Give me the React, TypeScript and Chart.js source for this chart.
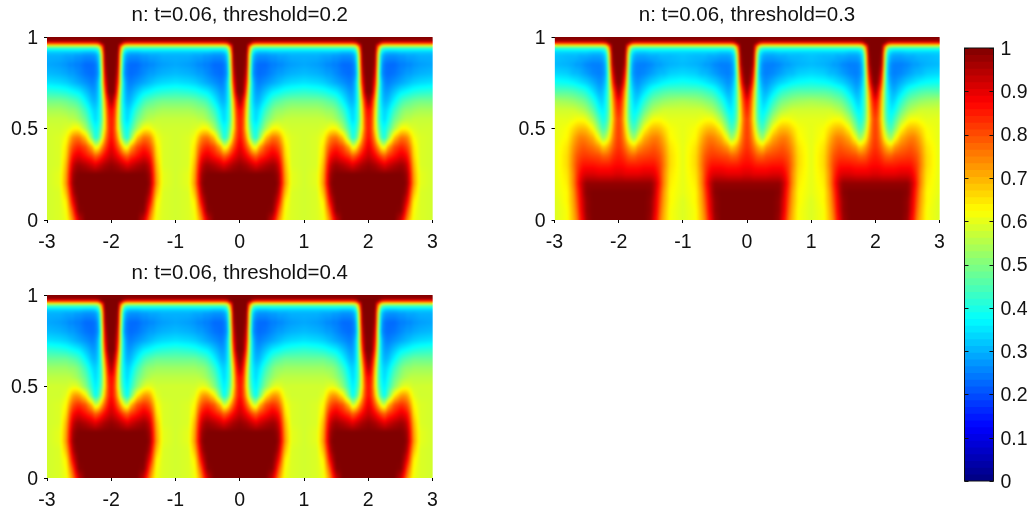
import React, { useEffect, useRef } from "react";
import { Chart, registerables } from "chart.js";

Chart.register(...registerables);

const titles = ["n: t=0.06, threshold=0.2", "n: t=0.06, threshold=0.3", "n: t=0.06, threshold=0.4"];
// distance from the nearest spike centre (x = -2, 0, 2)
const distances = [0, 0.05, 0.1, 0.15, 0.2, 0.25, 0.3, 0.4, 0.5, 0.55, 0.6, 0.65, 0.7, 0.8, 1];
const heights = [1, 0.98, 0.97, 0.96, 0.95, 0.94, 0.92, 0.9, 0.85, 0.8, 0.75, 0.7, 0.65, 0.6, 0.55, 0.5, 0.45, 0.4, 0.35, 0.3, 0.25, 0.2, 0.15, 0.1, 0.05, 0];
const centres = [-2, 0, 2];

// values in percent, one row per entry of `heights`
const panelA = [
  [100,100,100,100,100,100,100,100,100,100,100,100,100,100,100],
  [100,100,100,100,99,98,98,98,98,98,98,98,98,98,98],
  [100,100,100,99,90,87,87,87,87,87,87,87,87,87,87],
  [100,100,100,90,76,73,73,73,73,73,73,73,73,73,73],
  [100,100,100,78,60,56,56,56,56,56,56,56,56,56,56],
  [100,100,100,72,48,44,43,43,43,43,43,43,43,43,43],
  [100,100,99,65,38,33,32,32,33,33,33,33,33,33,33],
  [100,100,98,60,33,28,27,27,28,28,29,29,29,30,30],
  [100,100,96,56,29,24,23,23,25,25,26,26,27,28,29],
  [100,100,92,52,28,24,23,24,26,27,28,28,29,30,31],
  [100,99,86,52,32,26,25,27,29,30,31,32,33,34,35],
  [100,98,78,48,33,28,28,32,36,37,38,39,40,41,42],
  [98,88,70,46,34,30,31,37,43,45,46,47,48,49,49],
  [88,83,66,46,36,33,35,43,49,51,52,52,53,54,54],
  [86,81,64,46,37,34,38,48,53,55,56,56,57,57,57],
  [86,80,65,50,40,38,43,54,62,63,62,60,59,58,58],
  [87,82,72,56,44,40,50,68,76,76,74,68,62,59,58],
  [90,86,80,72,62,60,70,80,84,83,80,74,65,59,58],
  [93,91,88,84,80,78,82,86,90,89,86,78,67,59,58],
  [98,97,96,94,92,90,92,95,97,96,92,82,70,59,58],
  [100,100,100,100,100,100,100,100,100,99,96,85,72,60,58],
  [100,100,100,100,100,100,100,100,100,100,97,86,73,60,58],
  [100,100,100,100,100,100,100,100,100,99,94,81,69,59,58],
  [100,100,100,100,100,100,100,100,100,96,88,76,64,59,58],
  [100,100,100,100,100,100,100,100,99,92,80,71,62,59,58],
  [100,100,100,100,100,100,100,100,93,84,74,67,61,59,58],
];

const panelB = [
  [100,100,100,100,100,100,100,100,100,100,100,100,100,100,100],
  [100,100,100,100,99,98,98,98,98,98,98,98,98,98,98],
  [100,100,100,99,90,87,87,87,87,87,87,87,87,87,87],
  [100,100,100,90,76,73,73,73,73,73,73,73,73,73,73],
  [100,100,100,78,60,56,56,56,56,56,56,56,56,56,56],
  [100,100,100,72,48,44,43,43,43,43,43,43,43,43,43],
  [100,100,99,65,39,34,33,33,34,34,34,34,34,34,34],
  [100,100,98,60,35,30,29,29,30,30,30,31,31,31,32],
  [100,100,95,56,31,26,25,25,26,27,28,28,29,30,31],
  [100,99,88,52,30,26,25,26,28,29,30,31,31,33,34],
  [100,96,80,50,33,28,27,30,33,34,35,36,37,38,39],
  [97,87,72,48,36,31,30,35,40,42,43,44,45,46,46],
  [88,82,68,48,38,33,34,41,47,49,50,51,52,53,54],
  [85,79,66,48,39,36,38,47,53,55,56,57,58,58,58],
  [82,77,65,50,41,39,44,54,60,62,62,62,61,60,60],
  [82,78,68,55,46,44,50,62,68,69,69,68,66,62,60],
  [82,79,72,62,55,52,60,70,74,75,75,73,70,63,60],
  [83,81,77,72,68,67,72,76,78,79,78,76,73,65,60],
  [85,84,82,79,78,78,80,81,82,82,81,79,75,66,60],
  [87,87,86,85,85,85,85,86,86,86,84,81,76,66,60],
  [91,91,90,90,90,90,90,91,91,90,87,82,75,65,60],
  [98,98,98,98,98,98,98,98,98,95,90,83,75,64,60],
  [100,100,100,100,100,100,100,100,99,95,88,81,73,63,60],
  [100,100,100,100,100,100,100,100,98,93,87,79,72,63,59],
  [100,100,100,100,100,100,100,100,98,92,86,77,71,62,59],
  [100,100,100,100,100,100,100,100,97,90,84,75,70,62,59],
];

const panelC = [
  [100,100,100,100,100,100,100,100,100,100,100,100,100,100,100],
  [100,100,100,100,99,98,98,98,98,98,98,98,98,98,98],
  [100,100,100,99,90,87,87,87,87,87,87,87,87,87,87],
  [100,100,100,90,76,73,73,73,73,73,73,73,73,73,73],
  [100,100,100,78,60,56,56,56,56,56,56,56,56,56,56],
  [100,100,100,72,48,44,43,43,43,43,43,43,43,43,43],
  [100,100,99,65,38,33,32,32,33,33,33,33,33,33,33],
  [100,100,98,60,33,28,27,27,28,28,29,29,29,30,30],
  [100,100,96,56,29,24,23,23,25,25,26,26,27,28,29],
  [100,100,92,52,28,24,23,24,26,27,28,28,29,30,31],
  [100,99,88,52,32,26,25,27,29,30,31,32,33,34,35],
  [100,99,82,50,33,28,28,32,36,37,38,39,40,41,42],
  [100,93,74,48,34,30,31,37,43,45,46,47,48,48,48],
  [96,87,68,46,36,33,35,43,49,51,52,52,53,53,53],
  [88,83,65,46,37,34,38,47,52,54,55,56,56,56,56],
  [87,81,65,48,39,36,41,51,58,60,60,59,58,58,58],
  [87,82,70,54,43,38,47,64,72,73,71,65,60,58,58],
  [90,86,79,70,60,57,68,79,83,82,79,72,63,59,58],
  [93,91,88,84,80,78,82,86,90,89,86,78,66,59,58],
  [98,97,96,94,92,90,92,95,97,96,92,82,70,59,58],
  [100,100,100,100,100,100,100,100,100,99,96,85,72,60,58],
  [100,100,100,100,100,100,100,100,100,100,97,86,73,60,58],
  [100,100,100,100,100,100,100,100,100,99,94,81,69,59,58],
  [100,100,100,100,100,100,100,100,100,96,88,76,64,59,58],
  [100,100,100,100,100,100,100,100,99,92,80,71,62,59,58],
  [100,100,100,100,100,100,100,100,93,84,74,67,61,59,58],
];

const panels = [panelA, panelB, panelC];
const xTicks = [-3, -2, -1, 0, 1, 2, 3];
const yTicks = [0, 0.5, 1];
const colorLevels = 64;
const FONT = "'Liberation Sans', Arial, sans-serif";

const clamp = (v: number) => Math.max(0, Math.min(1, v));
const jet = (v: number): [number, number, number] => [
  Math.round(255 * clamp(1.5 - Math.abs(4 * v - 3))),
  Math.round(255 * clamp(1.5 - Math.abs(4 * v - 2))),
  Math.round(255 * clamp(1.5 - Math.abs(4 * v - 1))),
];

// Expands a half-period table into the full grid over [-3, 3].
function buildGrid(table: number[][]) {
  const xs: number[] = [];
  const cols: number[] = [];
  for (const c of centres) {
    const isFirst = c === centres[0];
    for (let i = distances.length - 1; i >= 0; i--) {
      if (i === distances.length - 1 && !isFirst) continue;
      xs.push(c - distances[i]);
      cols.push(i);
    }
    for (let i = 1; i < distances.length; i++) {
      xs.push(c + distances[i]);
      cols.push(i);
    }
  }
  const rows = table.map((row) => cols.map((c) => row[c] / 100));
  return { xs, rows };
}

const locate = (arr: number[], v: number, descending: boolean) => {
  let i = 0;
  if (descending) {
    while (i < arr.length - 2 && arr[i + 1] > v) i++;
  } else {
    while (i < arr.length - 2 && arr[i + 1] < v) i++;
  }
  const t = clamp((v - arr[i]) / (arr[i + 1] - arr[i]));
  return [i, t];
};

function makeHeatPlugin(xs: number[], rows: number[][]) {
  return {
    id: "heat",
    beforeDatasetsDraw(chart: any) {
      const { ctx, chartArea: a, scales } = chart;
      const w = Math.ceil(a.right - a.left);
      const h = Math.ceil(a.bottom - a.top);
      const off = document.createElement("canvas");
      off.width = w;
      off.height = h;
      const octx = off.getContext("2d")!;
      const img = octx.createImageData(w, h);
      for (let py = 0; py < h; py++) {
        const yv = scales.y.getValueForPixel(a.top + ((py + 0.5) * (a.bottom - a.top)) / h);
        const [r, tr] = locate(heights, yv, true);
        for (let px = 0; px < w; px++) {
          const xv = scales.x.getValueForPixel(a.left + ((px + 0.5) * (a.right - a.left)) / w);
          const [c, tc] = locate(xs, xv, false);
          const top = rows[r][c] * (1 - tc) + rows[r][c + 1] * tc;
          const bot = rows[r + 1][c] * (1 - tc) + rows[r + 1][c + 1] * tc;
          const [cr, cg, cb] = jet(top * (1 - tr) + bot * tr);
          const o = (py * w + px) * 4;
          img.data[o] = cr;
          img.data[o + 1] = cg;
          img.data[o + 2] = cb;
          img.data[o + 3] = 255;
        }
      }
      octx.putImageData(img, 0, 0);
      ctx.save();
      ctx.beginPath();
      ctx.rect(a.left, a.top, a.right - a.left, a.bottom - a.top);
      ctx.clip();
      ctx.drawImage(off, a.left, a.top, a.right - a.left, a.bottom - a.top);
      ctx.filter = "blur(0.8px)";
      ctx.drawImage(off, a.left, a.top, a.right - a.left, a.bottom - a.top);
      ctx.restore();
    },
  };
}

const colorbarFrame = {
  id: "colorbarFrame",
  afterDatasetsDraw(chart: any) {
    const { ctx, chartArea: a, scales } = chart;
    ctx.save();
    ctx.strokeStyle = "#111";
    ctx.lineWidth = 1;
    ctx.strokeRect(a.left, a.top, a.right - a.left, a.bottom - a.top);
    for (const t of scales.y.ticks) {
      const y = Math.round(scales.y.getPixelForValue(t.value)) + 0.5;
      ctx.beginPath();
      ctx.moveTo(a.left, y);
      ctx.lineTo(a.left + 4, y);
      ctx.moveTo(a.right - 4, y);
      ctx.lineTo(a.right, y);
      ctx.stroke();
    }
    ctx.restore();
  },
};

function heatConfig(index: number, yGutter: number): any {
  const { xs, rows } = buildGrid(panels[index]);
  const nodes: { x: number; y: number; v: number }[] = [];
  heights.forEach((y, r) => xs.forEach((x, c) => nodes.push({ x, y, v: rows[r][c] })));
  return {
    type: "scatter",
    data: { datasets: [{ data: nodes, pointRadius: 0, showLine: false }] },
    plugins: [makeHeatPlugin(xs, rows)],
    options: {
      animation: false,
      responsive: false,
      devicePixelRatio: 1,
      layout: { padding: { left: 0, right: 67.5, top: 0, bottom: 0 } },
      plugins: {
        legend: { display: false },
        tooltip: { enabled: false },
        title: {
          display: true,
          fullSize: false,
          text: titles[index],
          color: "#111",
          font: { family: FONT, size: 20.5, weight: "normal", lineHeight: 1.2 },
          padding: { top: 3, bottom: 9.4 },
        },
      },
      scales: {
        x: {
          type: "linear",
          min: xTicks[0],
          max: xTicks[xTicks.length - 1],
          afterBuildTicks: (s: any) => {
            s.ticks = xTicks.map((value) => ({ value }));
          },
          afterFit: (s: any) => {
            s.height = 40;
          },
          border: { display: false },
          grid: { drawOnChartArea: false, drawTicks: true, tickLength: 3, color: "#000" },
          ticks: {
            color: "#111",
            padding: 8,
            maxRotation: 0,
            autoSkip: false,
            font: { family: FONT, size: 19.5 },
            callback: (v: any) => String(v),
          },
        },
        y: {
          type: "linear",
          min: 0,
          max: 1,
          afterBuildTicks: (s: any) => {
            s.ticks = yTicks.map((value) => ({ value }));
          },
          afterFit: (s: any) => {
            s.width = yGutter;
          },
          border: { display: false },
          grid: { drawOnChartArea: false, drawTicks: true, tickLength: 3, color: "#000" },
          ticks: {
            color: "#111",
            padding: 6,
            autoSkip: false,
            labelOffset: 1.5,
            font: { family: FONT, size: 19.5 },
            callback: (v: any) => String(v),
          },
        },
      },
    },
  };
}

function colorbarConfig(): any {
  const datasets: any[] = [];
  for (let i = colorLevels - 1; i >= 0; i--) {
    const [r, g, b] = jet((i + 0.5) / colorLevels);
    datasets.push({
      data: [[i / colorLevels, 1]],
      backgroundColor: `rgb(${r},${g},${b})`,
      borderWidth: 0,
      grouped: false,
      barPercentage: 1,
      categoryPercentage: 1,
    });
  }
  return {
    type: "bar",
    data: { labels: ["level"], datasets },
    plugins: [colorbarFrame],
    options: {
      animation: false,
      responsive: false,
      devicePixelRatio: 1,
      layout: { padding: { left: 24.5, right: 0, top: 48, bottom: 37 } },
      plugins: { legend: { display: false }, tooltip: { enabled: false }, title: { display: false } },
      scales: {
        x: { display: false },
        y: {
          position: "right",
          min: 0,
          max: 1,
          afterFit: (s: any) => {
            s.width = 38.5;
          },
          border: { display: false },
          grid: { display: false, drawTicks: false },
          ticks: {
            stepSize: 0.1,
            color: "#111",
            padding: 7,
            autoSkip: false,
            labelOffset: 1.5,
            font: { family: FONT, size: 19.5 },
            callback: (v: any) => String(+Number(v).toFixed(1)),
          },
        },
      },
    },
  };
}

function Canvas({ left, top, width, height, config }: { left: number; top: number; width: number; height: number; config: () => any }) {
  const ref = useRef<HTMLCanvasElement>(null);
  useEffect(() => {
    const chart = new Chart(ref.current!, config());
    return () => chart.destroy();
  }, []);
  return <canvas ref={ref} width={width} height={height} style={{ position: "absolute", left, top, width, height, display: "block" }} />;
}

export default function App() {
  return (
    <div style={{ position: "absolute", left: 0, top: 0, width: 1032, height: 518, overflow: "hidden", background: "#fff" }}>
      <Canvas left={0} top={0} width={500} height={260} config={() => heatConfig(0, 47)} />
      <Canvas left={507} top={0} width={500} height={260} config={() => heatConfig(1, 47.5)} />
      <Canvas left={0} top={258} width={500} height={260} config={() => heatConfig(2, 47)} />
      <Canvas left={940} top={0} width={92} height={518} config={colorbarConfig} />
    </div>
  );
}
